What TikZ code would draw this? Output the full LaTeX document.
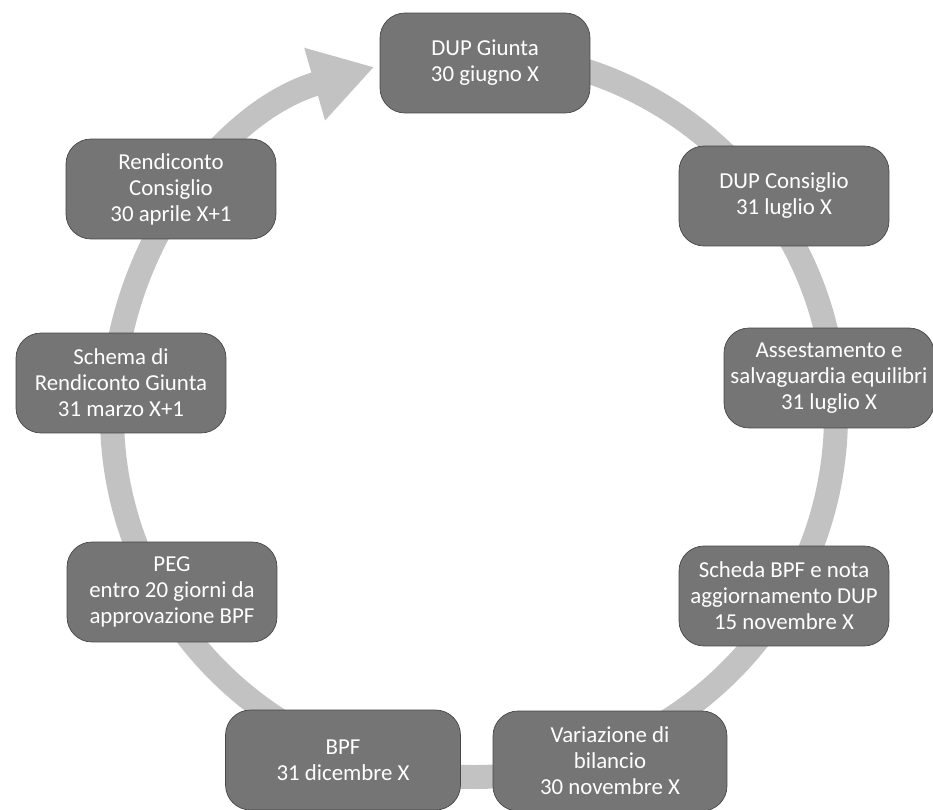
\documentclass[tikz,border=0pt]{standalone}
\usepackage{fontspec}
\setmainfont{Carlito}
\usetikzlibrary{arrows.meta}
\begin{document}
\begin{tikzpicture}[x=0.02cm,y=0.02cm,
  fase/.style={draw=black!72,fill=black!54,text=white,rounded corners=0.5cm,
    minimum width=4.2cm,minimum height=2cm,align=center,inner sep=1pt,
    font=\fontsize{13}{14.8}\selectfont},
  anello/.style={black!24,line width=0.48cm}]
  \useasboundingbox (0,0) rectangle (933,809);
  \coordinate (centro) at (474,394);
  \draw[anello,-{Triangle[length=1.24cm,width=1.42cm]}] (centro) ++(88:362)
    arc[start angle=88,end angle=-254,radius=362];
  \node[fase] (dupgiunta) at (485,746) {DUP Giunta\\30 giugno X};
  \node[fase] (dupconsiglio) at (784,613) {DUP Consiglio\\31 luglio X};
  \node[fase] (assestamento) at (829,431) {Assestamento e\\salvaguardia equilibri\\31 luglio X};
  \node[fase] (scheda) at (784,213) {Scheda BPF e nota\\aggiornamento DUP\\15 novembre X};
  \node[fase,minimum width=4.68cm] (variazione) at (610,48) {Variazione di\\bilancio\\30 novembre X};
  \node[fase,minimum width=4.7cm] (bpf) at (343,49) {BPF\\31 dicembre X};
  \node[fase] (peg) at (172,217) {PEG\\entro 20 giorni da\\approvazione BPF};
  \node[fase] (schema) at (121,426) {Schema di\\Rendiconto Giunta\\31 marzo X+1};
  \node[fase] (rendiconto) at (171,620) {Rendiconto\\Consiglio\\30 aprile X+1};
\end{tikzpicture}
\end{document}
